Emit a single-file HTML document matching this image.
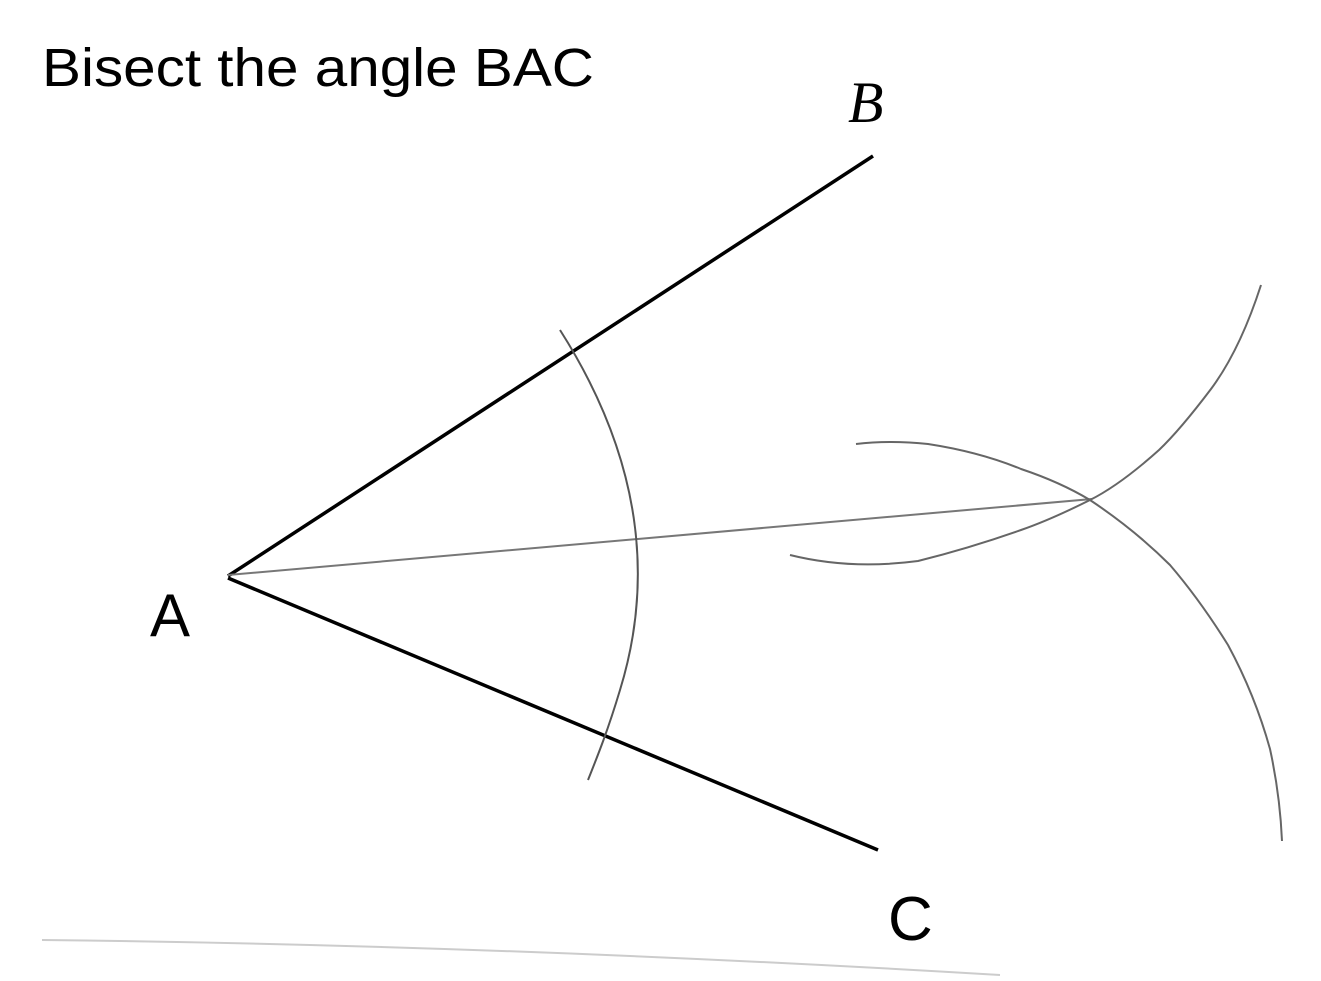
<!DOCTYPE html>
<html><head><meta charset="utf-8"><style>
html,body{margin:0;padding:0;background:#fff;}
svg{display:block;}
</style></head><body>
<svg width="1321" height="981" viewBox="0 0 1321 981" xmlns="http://www.w3.org/2000/svg">
<rect width="1321" height="981" fill="#fff"/>
<text x="42" y="86" font-family="Liberation Sans, sans-serif" font-size="54" fill="#000" textLength="552" lengthAdjust="spacingAndGlyphs">Bisect the angle BAC</text>
<line x1="228" y1="576" x2="873" y2="156" stroke="#000" stroke-width="3.5"/>
<line x1="228" y1="578" x2="878" y2="850" stroke="#000" stroke-width="3.5"/>
<line x1="228" y1="575" x2="1092" y2="499" stroke="#777" stroke-width="2"/>
<path d="M560 330 C 630 440 660 560 620 690 C 608 730 598 755 588 780" fill="none" stroke="#555" stroke-width="2"/>
<path d="M1261 285 Q 1240 350 1211 389 Q 1180 430 1159 450 Q 1120 485 1090 500 Q 1050 520 1021 530 Q 970 548 918 561 Q 850 570 790 555" fill="none" stroke="#666" stroke-width="2"/>
<path d="M856 444 Q 890 440 928 444 Q 980 452 1021 469 Q 1060 482 1090 500 Q 1135 530 1170 565 Q 1200 600 1228 645 Q 1255 695 1270 749 Q 1280 795 1282 841" fill="none" stroke="#666" stroke-width="2"/>
<path d="M42 940 Q 500 945 1000 975" fill="none" stroke="#ccc" stroke-width="2"/>
<text x="848" y="122" font-family="Liberation Serif, serif" font-style="italic" font-size="58" fill="#000">B</text>
<text x="150" y="636" font-family="Liberation Sans, sans-serif" font-size="60" fill="#000">A</text>
<text x="888" y="940" font-family="Liberation Sans, sans-serif" font-size="62" fill="#000">C</text>
</svg>
</body></html>
